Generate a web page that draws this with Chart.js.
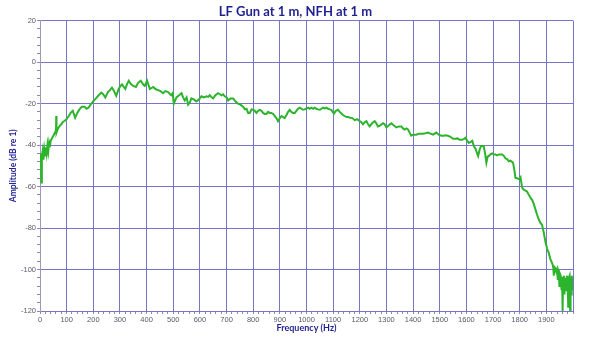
<!DOCTYPE html>
<html>
<head>
<meta charset="utf-8">
<script src="https://cdn.jsdelivr.net/npm/chart.js@4.4.0/dist/chart.umd.min.js"></script>
<style>
    html, body { margin: 0; padding: 0; background: #ffffff; }
    #wrap { width: 591px; height: 343px; }
</style>
</head>
<body>
<div id="wrap"><canvas id="grafico"></canvas></div>
<script>
// ===================== DADOS =====================
const tituloGrafico = "LF Gun at 1 m, NFH at 1 m";
const tituloX = "Frequency (Hz)";
const tituloY = "Amplitude (dB re 1)";

const xTickLabels = [0, 100, 200, 300, 400, 500, 600, 700, 800, 900, 1000, 1100, 1200, 1300, 1400, 1500, 1600, 1700, 1800, 1900];
const yTickLabels = [20, 0, -20, -40, -60, -80, -100, -120];

const freqHz = [
    0, 3, 5, 7, 10, 13, 16, 19, 22, 25, 28, 31, 34, 37, 40, 44, 48, 52, 56, 60,
    61, 62, 66, 70, 75, 80, 85, 90, 95, 100, 108, 115, 123, 132, 140, 148, 157, 167, 175, 182,
    190, 201, 210, 220, 230, 237, 245, 255, 262, 270, 278, 286, 295, 302, 308, 314, 320, 327, 333, 340,
    350, 360, 368, 378, 388, 393, 402, 412, 418, 425, 433, 443, 452, 462, 470, 481, 488, 493, 498, 502,
    512, 522, 531, 537, 543, 550, 556, 562, 568, 577, 587, 596, 606, 615, 625, 631, 637, 644, 650, 658,
    668, 675, 681, 687, 693, 700, 706, 715, 725, 734, 743, 752, 762, 769, 775, 781, 787, 794, 800, 806,
    812, 818, 825, 831, 837, 843, 850, 856, 862, 868, 875, 881, 887, 893, 900, 906, 912, 918, 925, 931,
    937, 943, 950, 956, 962, 968, 975, 981, 987, 993, 1000, 1006, 1012, 1018, 1025, 1031, 1037, 1043, 1050, 1056,
    1062, 1068, 1075, 1081, 1087, 1093, 1098, 1103, 1110, 1118, 1125, 1131, 1137, 1143, 1150, 1156, 1164, 1172, 1181, 1190,
    1200, 1206, 1212, 1218, 1225, 1231, 1237, 1246, 1256, 1262, 1268, 1277, 1287, 1293, 1300, 1309, 1318, 1327, 1337, 1347,
    1356, 1362, 1368, 1375, 1381, 1387, 1393, 1400, 1406, 1412, 1421, 1430, 1437, 1446, 1456, 1465, 1475, 1481, 1487, 1496,
    1506, 1515, 1522, 1531, 1540, 1550, 1559, 1567, 1575, 1584, 1591, 1597, 1603, 1609, 1616, 1622, 1628, 1635, 1640, 1644,
    1650, 1655, 1659, 1665, 1670, 1675, 1680, 1684, 1690, 1697, 1703, 1709, 1715, 1722, 1728, 1734, 1741, 1747, 1753, 1759,
    1765, 1770, 1775, 1780, 1784, 1790, 1797, 1803, 1809, 1815, 1822, 1828, 1834, 1841, 1847, 1853, 1859, 1865, 1872, 1878,
    1884, 1890, 1897, 1903, 1909, 1915, 1922, 1926, 1928, 1931, 1934, 1937, 1940, 1943, 1945, 1947, 1949, 1951, 1954, 1957,
    1959, 1961, 1963, 1966, 1968, 1970, 1972, 1975, 1977, 1980, 1982, 1984, 1987, 1989, 1991, 1993, 1995, 1997, 1999
];

const amplitudeDb = [
    -47, -44, -58, -46, -43, -47, -42, -45, -41, -44, -40, -43, -39, -41, -38, -37, -36, -35, -34, -33,
    -26, -34, -32.5, -31.5, -30.5, -30, -29, -28.5, -28, -27.5, -26, -24.5, -23.5, -26.8, -24.5, -22.8, -21.5, -21.5, -22.5, -22,
    -20.5, -18.7, -17.5, -16, -14.7, -15.5, -17.1, -14.5, -13.5, -12.3, -14, -16.3, -13, -11.5, -10.7, -12, -13, -10.5, -9, -10.5,
    -11.5, -12, -10, -9, -11, -11.5, -9, -13, -12.5, -12, -13, -13.5, -14, -15, -14, -14.5, -15.5, -16, -15, -20,
    -17, -16, -15, -17, -18.5, -17, -20.5, -19.5, -17.5, -18, -19, -18, -16.5, -17, -16.5, -16.8, -16, -17, -17.5, -16,
    -15, -15.5, -16, -15.5, -16.5, -17, -18.5, -17.5, -17.5, -19, -20, -20.5, -21.5, -22.8, -22.5, -24.5, -24.5, -22.8, -23, -23.5,
    -24.5, -23.5, -23, -23.5, -24.5, -25, -25, -24, -24.5, -24.5, -25, -26, -27, -28.5, -27, -26, -26.5, -27, -25.5, -24,
    -23, -24, -24.5, -24.5, -23.5, -22.5, -22, -22.5, -23, -22.8, -22.3, -22, -22.5, -22, -22.5, -22, -22.5, -22.8, -23, -22.5,
    -22, -22.3, -22, -22.5, -22.8, -23, -24, -24.8, -23.5, -23, -24, -24.8, -25.5, -26, -26.5, -26.5, -26.8, -27, -28, -27.5,
    -28.5, -29, -30, -29, -28.5, -30, -31, -29.5, -28.5, -29.5, -31, -30.5, -29.5, -30, -31.5, -30.5, -29.5, -30.5, -31.5, -31,
    -31, -32, -32.5, -32, -32.5, -34, -35.5, -35, -35, -35, -34.5, -34.5, -34.5, -34.3, -34, -34.5, -35, -34.5, -34, -35,
    -35.5, -35.5, -35.3, -35.5, -36, -37, -37, -36.8, -37.5, -37.5, -37, -36.5, -38, -39, -38.5, -38, -40.5, -42, -44, -45.3,
    -42, -40.5, -40.5, -40.5, -44, -48.5, -45.5, -45.3, -44.5, -44, -44.5, -44.5, -45, -44.5, -44.5, -44.5, -45.3, -46.5, -46.8, -47.8,
    -47.5, -48, -48.5, -52, -55.8, -56, -56.5, -55.5, -60.5, -61.5, -62, -62.5, -64, -65.5, -66.5, -68.5, -71, -73.5, -76, -77.5,
    -78.5, -82, -87, -90, -92, -95, -97, -99, -103, -99, -99.5, -101, -100, -105, -101, -102, -108, -102, -103, -110,
    -103.5, -120, -104, -103, -112, -104, -104, -110, -103, -106, -118, -104, -103, -120, -104, -112, -103, -105, -110
];

// ===================== ESTILO =====================
const corGrade = "#7676c8";
const corTitulo = "#1f1f8f";
const corTick = "#5a5a6a";

function montarPontos() {
    return freqHz.map((f, i) => ({ x: f, y: amplitudeDb[i] }));
}

const ctx = document.getElementById("grafico").getContext("2d");
const grafico = new Chart(ctx, {
    type: "line",
    data: {
        datasets: [{
            data: montarPontos(),
            borderColor: "#2db42d",
            borderWidth: 2,
            pointRadius: 0,
            tension: 0,
            fill: false
        }]
    },
    options: {
        responsive: true,
        maintainAspectRatio: false,
        animation: false,
        layout: { padding: { left: 0, right: 0, top: 0, bottom: 0 } },
        plugins: {
            legend: { display: false },
            tooltip: { enabled: false },
            title: {
                display: true,
                text: tituloGrafico,
                color: corTitulo,
                font: { family: "Lato", size: 13, weight: "bold" },
                padding: { top: 4, bottom: 1 }
            }
        },
        scales: {
            x: {
                type: "linear",
                min: 0,
                max: 2000,
                afterFit: (scale) => { scale.height = 32; },
                ticks: {
                    stepSize: 20,
                    autoSkip: false,
                    maxRotation: 0,
                    padding: 1,
                    color: corTick,
                    font: { family: "Liberation Sans", size: 7.5 },
                    callback: (v) => xTickLabels.includes(v) ? String(v) : ""
                },
                grid: {
                    color: (c) => (c.tick && c.tick.value % 100 === 0) ? corGrade : "rgba(0,0,0,0)",
                    tickColor: "#8a8ab8",
                    tickLength: 3,
                    lineWidth: 1
                },
                border: { color: corGrade },
                title: {
                    display: true,
                    text: tituloX,
                    color: corTitulo,
                    font: { family: "Lato", size: 9, weight: "bold" },
                    padding: { top: 0, bottom: 10 }
                }
            },
            y: {
                min: -120,
                max: 20,
                afterFit: (scale) => { scale.width = 40; },
                ticks: {
                    stepSize: 4,
                    autoSkip: false,
                    padding: 1,
                    color: corTick,
                    font: { family: "Liberation Sans", size: 7.5 },
                    callback: (v) => yTickLabels.includes(v) ? String(v) : ""
                },
                grid: {
                    color: (c) => (c.tick && c.tick.value % 20 === 0) ? corGrade : "rgba(0,0,0,0)",
                    tickColor: "#8a8ab8",
                    tickLength: 3,
                    lineWidth: 1
                },
                border: { color: "#9a9ab8" },
                title: {
                    display: true,
                    text: tituloY,
                    color: corTitulo,
                    font: { family: "Lato", size: 8.5, weight: "bold" },
                    padding: { top: 8, bottom: 0 }
                }
            },
            // eixo vazio a direita, so para reservar a margem
            yDir: {
                position: "right",
                min: -120,
                max: 20,
                afterFit: (scale) => { scale.width = 18; },
                ticks: { display: false },
                grid: { display: false, drawOnChartArea: false },
                border: { display: false }
            }
        }
    }
});
</script>
</body>
</html>
